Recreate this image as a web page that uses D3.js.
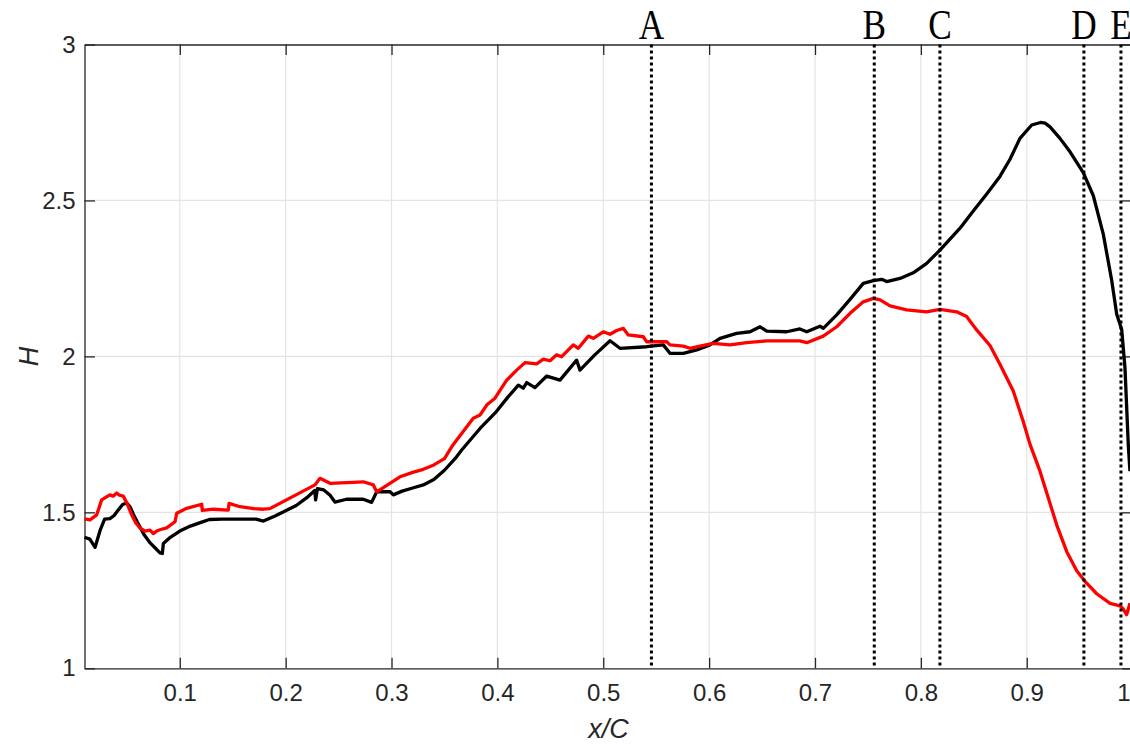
<!DOCTYPE html>
<html>
<head>
<meta charset="utf-8">
<script src="https://cdn.jsdelivr.net/npm/d3@7"></script>
<style>
  html, body { margin: 0; padding: 0; background: #ffffff; }
  svg { display: block; }
</style>
</head>
<body>
<script>
// Shape factor H along the chord, two cases (black and red)
const blackX = [0.010,0.015,0.020,0.025,0.029,0.034,0.038,0.042,0.046,0.050,0.053,0.056,0.060,0.066,0.072,0.077,0.0813,0.0835,0.0845,0.090,0.100,0.110,0.120,0.128,0.140,0.160,0.172,0.179,0.190,0.200,0.210,0.220,0.2275,0.2283,0.2300,0.236,0.242,0.2465,0.2575,0.2733,0.2812,0.2860,0.2986,0.3017,0.310,0.320,0.330,0.340,0.350,0.360,0.3663,0.3836,0.3977,0.4103,0.4198,0.4245,0.4277,0.4355,0.4466,0.4591,0.4749,0.4780,0.4920,0.5064,0.5158,0.5410,0.5567,0.5630,0.5756,0.5883,0.6008,0.6103,0.6260,0.6386,0.6481,0.6544,0.6733,0.6857,0.6922,0.7047,0.7078,0.7205,0.7331,0.7456,0.7551,0.7630,0.7677,0.7803,0.7928,0.8055,0.8180,0.8370,0.8495,0.8622,0.8747,0.8842,0.8936,0.9047,0.9130,0.9173,0.9220,0.9314,0.9409,0.9534,0.9629,0.9723,0.9802,0.9850,0.9897,0.9928,0.9959,0.9975];
const blackH = [1.420,1.414,1.388,1.445,1.478,1.480,1.490,1.508,1.525,1.530,1.518,1.495,1.468,1.430,1.402,1.385,1.370,1.368,1.400,1.417,1.440,1.456,1.468,1.477,1.478,1.478,1.478,1.472,1.488,1.505,1.522,1.547,1.570,1.540,1.576,1.572,1.555,1.533,1.542,1.542,1.532,1.566,1.566,1.556,1.568,1.578,1.588,1.605,1.635,1.672,1.700,1.769,1.818,1.871,1.908,1.898,1.916,1.900,1.937,1.924,1.988,1.956,2.005,2.050,2.026,2.031,2.037,2.010,2.010,2.021,2.037,2.058,2.074,2.079,2.095,2.081,2.079,2.088,2.079,2.097,2.090,2.133,2.183,2.234,2.243,2.247,2.240,2.250,2.268,2.298,2.341,2.411,2.466,2.521,2.577,2.632,2.699,2.742,2.750,2.748,2.736,2.699,2.656,2.589,2.515,2.392,2.245,2.135,2.086,1.963,1.718,1.632];

const redX = [0.010,0.0152,0.0215,0.0262,0.030,0.0341,0.037,0.0404,0.043,0.0466,0.050,0.0546,0.0585,0.0624,0.0672,0.0719,0.075,0.0782,0.082,0.0876,0.0955,0.0971,0.1065,0.1207,0.1213,0.1317,0.1458,0.1465,0.1569,0.1700,0.1789,0.1850,0.2277,0.2324,0.2419,0.2733,0.2828,0.2860,0.3080,0.320,0.330,0.340,0.350,0.3568,0.3616,0.3772,0.3836,0.3899,0.3977,0.4088,0.4182,0.4261,0.4371,0.4434,0.4497,0.4560,0.4607,0.4717,0.4764,0.4859,0.4906,0.5000,0.5064,0.5127,0.5189,0.5236,0.5378,0.5410,0.5599,0.5630,0.5756,0.5819,0.5914,0.6039,0.6197,0.6355,0.6544,0.6669,0.6857,0.6922,0.7078,0.7205,0.7331,0.7456,0.7551,0.7615,0.7709,0.7866,0.8055,0.8180,0.8338,0.8432,0.8527,0.8653,0.8747,0.8873,0.8967,0.9031,0.9125,0.9204,0.9283,0.9378,0.9472,0.9557,0.9661,0.9787,0.9881,0.9912,0.9944,0.9975];
const redH = [1.479,1.476,1.492,1.540,1.548,1.556,1.552,1.562,1.555,1.552,1.530,1.492,1.466,1.450,1.440,1.443,1.432,1.440,1.445,1.450,1.470,1.497,1.513,1.526,1.506,1.510,1.507,1.529,1.518,1.512,1.510,1.512,1.588,1.609,1.593,1.598,1.588,1.566,1.614,1.628,1.638,1.652,1.672,1.710,1.732,1.802,1.812,1.844,1.866,1.924,1.956,1.980,1.976,1.991,1.986,2.005,1.999,2.037,2.026,2.065,2.058,2.079,2.071,2.083,2.090,2.069,2.063,2.047,2.047,2.037,2.033,2.026,2.033,2.042,2.037,2.044,2.050,2.050,2.050,2.044,2.065,2.095,2.138,2.175,2.186,2.181,2.162,2.149,2.143,2.151,2.143,2.128,2.085,2.035,1.975,1.889,1.791,1.718,1.632,1.546,1.460,1.374,1.313,1.276,1.239,1.208,1.200,1.190,1.172,1.209];

// Marked stations along the chord
const stationX = [0.5455, 0.756, 0.818, 0.954, 0.989];
const stationLabels = ["A", "B", "C", "D", "E"];

// Axis ticks
const xTicks = [0.1, 0.2, 0.3, 0.4, 0.5, 0.6, 0.7, 0.8, 0.9, 1.0];
const xTickLabels = ["0.1", "0.2", "0.3", "0.4", "0.5", "0.6", "0.7", "0.8", "0.9", "1"];
const yTicks = [1, 1.5, 2, 2.5, 3];
const yTickLabels = ["1", "1.5", "2", "2.5", "3"];

const W = 1130, H = 744;
const plotL = 84.5, plotR = 1132.6, plotT = 44.5, plotB = 668.3;
const axisColor = "#262626";
const gridColor = "#e4e4e4";
const tickLen = 10.5;

const x = d3.scaleLinear().domain([0.01, 1.0]).range([plotL, plotR]);
const y = d3.scaleLinear().domain([1, 3]).range([plotB, plotT]);

const svg = d3.select("body").append("svg")
  .attr("width", W).attr("height", H)
  .attr("viewBox", `0 0 ${W} ${H}`);

// Grid
const grid = svg.append("g").attr("stroke", gridColor).attr("stroke-width", 1.2);
grid.selectAll("line.gx").data(xTicks.filter(d => d < 1.0)).join("line")
  .attr("class", "gx")
  .attr("x1", d => x(d)).attr("x2", d => x(d))
  .attr("y1", plotT).attr("y2", plotB);
grid.selectAll("line.gy").data(yTicks.filter(d => d > 1 && d < 3)).join("line")
  .attr("class", "gy")
  .attr("x1", plotL).attr("x2", plotR)
  .attr("y1", d => y(d)).attr("y2", d => y(d));

// Axes (ticks point inward)
const xFmt = d => xTickLabels[xTicks.indexOf(d)];
const yFmt = d => yTickLabels[yTicks.indexOf(d)];

function styleAxis(g) {
  g.select(".domain").attr("stroke", axisColor).attr("stroke-width", 1.3);
  g.selectAll(".tick line").attr("stroke", axisColor).attr("stroke-width", 1.3);
  g.selectAll(".tick text")
    .attr("fill", axisColor)
    .style("font-family", "'Liberation Sans', Arial, Helvetica, sans-serif")
    .style("font-size", "24px");
}

const gx = svg.append("g").attr("transform", `translate(0,${plotB})`)
  .call(d3.axisBottom(x).tickValues(xTicks).tickFormat(xFmt)
    .tickSizeInner(-tickLen).tickSizeOuter(0).tickPadding(16))
  .call(styleAxis);
// the last label sits at the right edge of the canvas: keep it inside
gx.selectAll(".tick text").filter(d => d === 1.0)
  .attr("text-anchor", "end").attr("dx", W - plotR);

svg.append("g").attr("transform", `translate(0,${plotT})`)
  .call(d3.axisTop(x).tickValues(xTicks).tickFormat("")
    .tickSizeInner(-tickLen).tickSizeOuter(0))
  .call(styleAxis);

svg.append("g").attr("transform", `translate(${plotL},0)`)
  .call(d3.axisLeft(y).tickValues(yTicks).tickFormat(yFmt)
    .tickSizeInner(-tickLen).tickSizeOuter(0).tickPadding(9))
  .call(styleAxis);

svg.append("g").attr("transform", `translate(${plotR},0)`)
  .call(d3.axisRight(y).tickValues(yTicks).tickFormat("")
    .tickSizeInner(-tickLen).tickSizeOuter(0))
  .call(styleAxis);

// Curves
const line = d3.line().x(d => x(d[0])).y(d => y(d[1]));
const blackPts = blackX.map((v, i) => [v, blackH[i]]);
const redPts = redX.map((v, i) => [v, redH[i]]);

svg.append("path").datum(blackPts)
  .attr("d", line).attr("fill", "none")
  .attr("stroke", "#000000").attr("stroke-width", 3.3)
  .attr("stroke-linejoin", "round");

svg.append("path").datum(redPts)
  .attr("d", line).attr("fill", "none")
  .attr("stroke", "#ff0000").attr("stroke-width", 3.3)
  .attr("stroke-linejoin", "round");

// Station markers
svg.append("g").selectAll("line").data(stationX).join("line")
  .attr("x1", d => x(d)).attr("x2", d => x(d))
  .attr("y1", y(3)).attr("y2", y(1))
  .attr("stroke", "#000000").attr("stroke-width", 3)
  .attr("stroke-dasharray", "3,3");

svg.append("g").selectAll("text").data(stationX).join("text")
  .attr("transform", d => `translate(${x(d)},${plotT - 6}) scale(0.82,1)`)
  .attr("text-anchor", "middle")
  .style("font-family", "'Liberation Serif', 'Times New Roman', serif")
  .style("font-size", "43px")
  .attr("fill", "#000000")
  .text((d, i) => stationLabels[i]);

// Axis titles
svg.append("text")
  .attr("x", (plotL + plotR) / 2).attr("y", 738)
  .attr("text-anchor", "middle")
  .style("font-family", "'Liberation Sans', Arial, Helvetica, sans-serif")
  .style("font-size", "27px").style("font-style", "italic")
  .attr("fill", axisColor)
  .text("x/C");

svg.append("text")
  .attr("transform", `translate(38,${(plotT + plotB) / 2}) rotate(-90)`)
  .attr("text-anchor", "middle")
  .style("font-family", "'Liberation Sans', Arial, Helvetica, sans-serif")
  .style("font-size", "27px").style("font-style", "italic")
  .attr("fill", axisColor)
  .text("H");
</script>
</body>
</html>
